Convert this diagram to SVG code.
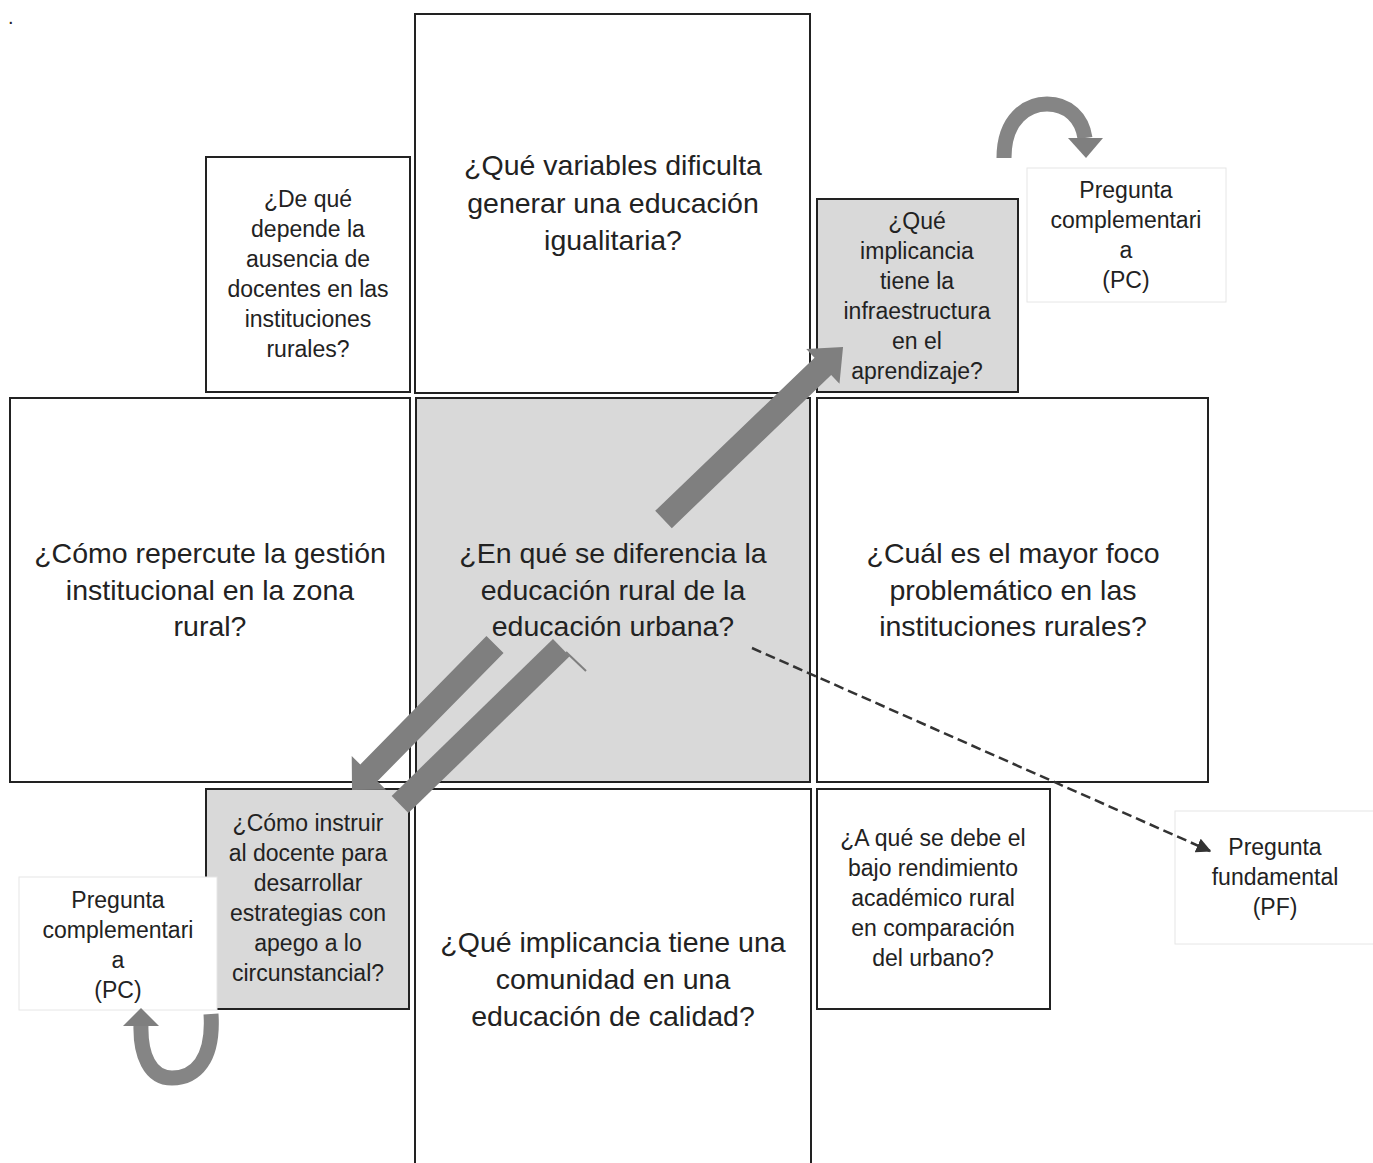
<svg xmlns="http://www.w3.org/2000/svg" width="1373" height="1163" viewBox="0 0 1373 1163">
<defs>
<style>
.box{fill:#ffffff;stroke:#222;stroke-width:2}
.grey{fill:#d9d9d9;stroke:#222;stroke-width:2}
.lbl{fill:#ffffff;stroke:#e6e6e6;stroke-width:1}
.big{font-family:"Liberation Sans",Arial,sans-serif;font-size:28.5px;fill:#222;text-anchor:middle}
.sm{font-family:"Liberation Sans",Arial,sans-serif;font-size:23px;fill:#222;text-anchor:middle}
.thick{fill:#7f7f7f}
.curve{fill:none;stroke:#858585;stroke-width:15}
</style>
<marker id="dh" viewBox="0 0 10 10" refX="9" refY="5" markerWidth="6" markerHeight="6" orient="auto" markerUnits="strokeWidth">
<path d="M0,0 L10,5 L0,10 z" fill="#333"/>
</marker>
</defs>
<rect width="1373" height="1163" fill="#ffffff"/>
<text x="8" y="24" font-family="Liberation Sans, sans-serif" font-size="20" fill="#222">.</text>

<g id="n-top">
<rect class="box" x="415" y="14" width="395" height="379"/>
<text class="big"><tspan x="613" y="175">¿Qué variables dificulta</tspan><tspan x="613" y="213">generar una educación</tspan><tspan x="613" y="250">igualitaria?</tspan></text>
</g>
<g id="n-topleft">
<rect class="box" x="206" y="157" width="204" height="235"/>
<text class="sm"><tspan x="308" y="207">¿De qué</tspan><tspan x="308" y="237">depende la</tspan><tspan x="308" y="267">ausencia de</tspan><tspan x="308" y="297">docentes en las</tspan><tspan x="308" y="327">instituciones</tspan><tspan x="308" y="357">rurales?</tspan></text>
</g>
<g id="n-topright">
<rect class="grey" x="817" y="199" width="201" height="193"/>
<text class="sm"><tspan x="917" y="229">¿Qué</tspan><tspan x="917" y="259">implicancia</tspan><tspan x="917" y="289">tiene la</tspan><tspan x="917" y="319">infraestructura</tspan><tspan x="917" y="349">en el</tspan><tspan x="917" y="379">aprendizaje?</tspan></text>
</g>
<g id="n-pc-top">
<rect class="lbl" x="1027" y="168" width="199" height="134"/>
<text class="sm"><tspan x="1126" y="198">Pregunta</tspan><tspan x="1126" y="228">complementari</tspan><tspan x="1126" y="258">a</tspan><tspan x="1126" y="288">(PC)</tspan></text>
</g>
<g id="n-left">
<rect class="box" x="10" y="398" width="400" height="384"/>
<text class="big"><tspan x="210" y="563">¿Cómo repercute la gestión</tspan><tspan x="210" y="600">institucional en la zona</tspan><tspan x="210" y="636">rural?</tspan></text>
</g>
<g id="n-center">
<rect class="grey" x="416" y="398" width="394" height="384"/>
<text class="big"><tspan x="613" y="563">¿En qué se diferencia la</tspan><tspan x="613" y="600">educación rural de la</tspan><tspan x="613" y="636">educación urbana?</tspan></text>
</g>
<g id="n-right">
<rect class="box" x="817" y="398" width="391" height="384"/>
<text class="big"><tspan x="1013" y="563">¿Cuál es el mayor foco</tspan><tspan x="1013" y="600">problemático en las</tspan><tspan x="1013" y="636">instituciones rurales?</tspan></text>
</g>
<g id="n-botleft">
<rect class="grey" x="206" y="789" width="203" height="220"/>
<text class="sm"><tspan x="308" y="831">¿Cómo instruir</tspan><tspan x="308" y="861">al docente para</tspan><tspan x="308" y="891">desarrollar</tspan><tspan x="308" y="921">estrategias con</tspan><tspan x="308" y="951">apego a lo</tspan><tspan x="308" y="981">circunstancial?</tspan></text>
</g>
<g id="n-bottom">
<path d="M415,1164 V789 H811 V1164" fill="#ffffff" stroke="#222" stroke-width="2"/>
<text class="big"><tspan x="613" y="952">¿Qué implicancia tiene una</tspan><tspan x="613" y="989">comunidad en una</tspan><tspan x="613" y="1026">educación de calidad?</tspan></text>
</g>
<g id="n-botright">
<rect class="box" x="817" y="789" width="233" height="220"/>
<text class="sm"><tspan x="933" y="846">¿A qué se debe el</tspan><tspan x="933" y="876">bajo rendimiento</tspan><tspan x="933" y="906">académico rural</tspan><tspan x="933" y="936">en comparación</tspan><tspan x="933" y="966">del urbano?</tspan></text>
</g>
<g id="n-pc-bottom">
<rect class="lbl" x="19" y="877" width="198" height="133"/>
<text class="sm"><tspan x="118" y="908">Pregunta</tspan><tspan x="118" y="938">complementari</tspan><tspan x="118" y="968">a</tspan><tspan x="118" y="998">(PC)</tspan></text>
</g>
<g id="n-pf">
<rect class="lbl" x="1175" y="811" width="199" height="133"/>
<text class="sm"><tspan x="1275" y="855">Pregunta</tspan><tspan x="1275" y="885">fundamental</tspan><tspan x="1275" y="915">(PF)</tspan></text>
</g>

<g id="connectors">
<g transform="translate(663.5,519.5) rotate(-43.86)">
<polygon class="thick" points="0,-12 221,-12 221,-24 249,0 221,24 221,12 0,12"/>
</g>
<g transform="translate(495,644.5) rotate(134.5)">
<polygon class="thick" points="0,-12 180,-12 180,-24 204,0 180,24 180,12 0,12"/>
</g>
<g transform="translate(400,804.5) rotate(-44.2)">
<rect class="thick" x="0" y="-12" width="225" height="24"/>
</g>
<line x1="566" y1="652" x2="586" y2="671" stroke="#7f7f7f" stroke-width="2"/>
<line x1="752" y1="648" x2="1210" y2="851" stroke="#333" stroke-width="2.5" stroke-dasharray="10,5" marker-end="url(#dh)"/>
<path class="curve" d="M1004,158 C1004,118 1028,104 1047,104 C1068,104 1082,118 1085,138"/>
<polygon class="thick" points="1068,138 1103,138 1086,158"/>
<path class="curve" d="M211,1014 C214,1060 195,1078 172,1078 C150,1078 140,1055 141,1024"/>
<polygon class="thick" points="123,1026 159,1026 141,1008"/>
</g>
</svg>
